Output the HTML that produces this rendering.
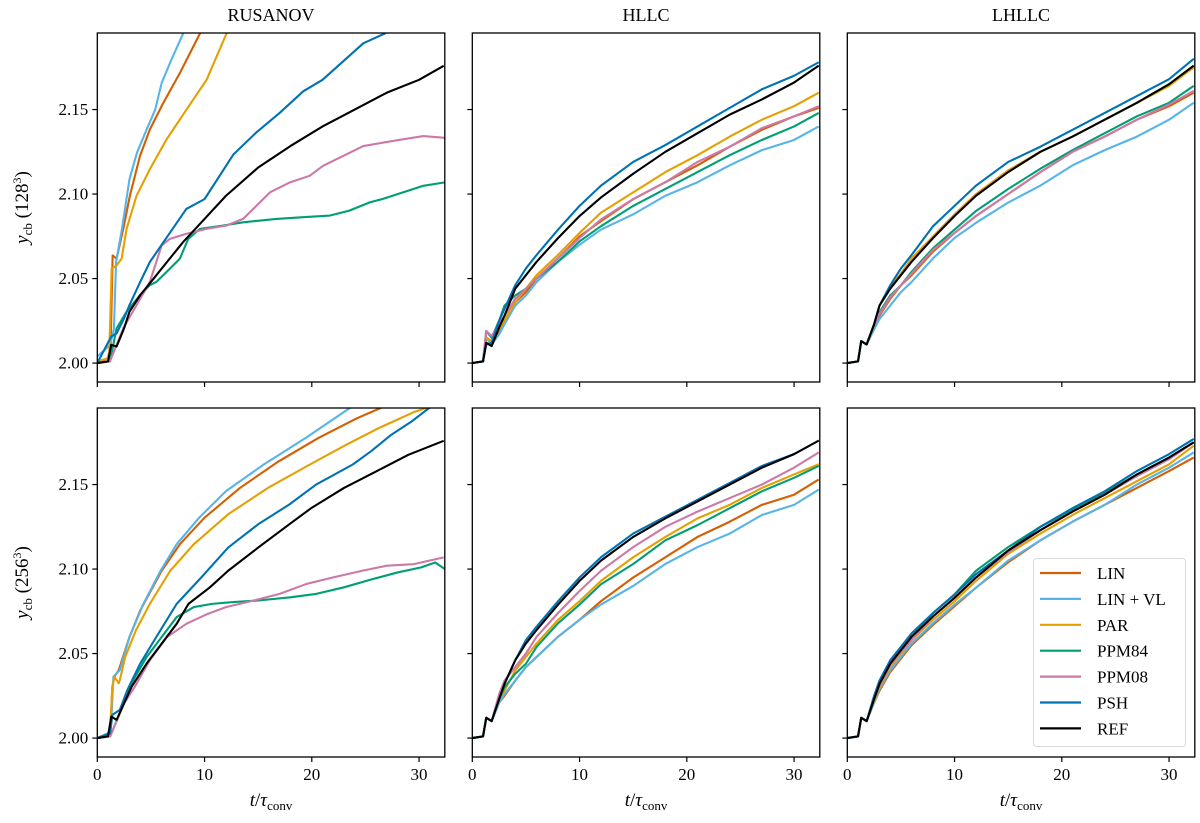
<!DOCTYPE html>
<html><head><meta charset="utf-8"><style>
body{margin:0;background:#fff;}
svg{display:block;font-family:"Liberation Serif",serif;}
</style></head><body>
<svg id="chart" width="1200" height="823" viewBox="0 0 1200 823" xmlns="http://www.w3.org/2000/svg"></svg>
<script>
const methods=["LIN","LIN + VL","PAR","PPM84","PPM08","PSH","REF"];
const colors=["#d55e00","#56b4e9","#e69f00","#009e73","#cc79a7","#0072b2","#000000"];
const colTitles=["RUSANOV","HLLC","LHLLC"];
const rowLabels=["128","256"];
const yTicks=[2.00,2.05,2.10,2.15];
const xTicks=[0,10,20,30];
const tGrid=[0,1,1.3,1.8,2.5,3,4,5,6,8,10,12,15,18,21,24,27,30,32.3];

// RUSANOV 128
const rus1T=[
[0,1,1.25,1.43,1.8,2.42,3.04,3.98,4.9,6.15,7.7,9.57,11],
[0,1.2,1.55,1.75,2.3,3,3.7,4.6,5.4,6,6.9,8,10],
[0,1.1,1.34,1.8,2.27,2.73,3.66,4.9,6.46,8.32,10.19,12.05,14],
[0,1.18,1.8,2.73,3.98,4.9,5.5,6.77,7.7,8.48,9.57,11.74,13.6,16.7,19.2,21.7,23.5,25.4,26.6,28.5,30.4,32.4],
[0,1.18,2.42,3.66,4.9,6.0,6.77,8.32,10.19,12.05,13.6,14.84,16.1,17.95,19.8,21.05,22.9,24.8,26.6,28.5,30.4,32.4],
[0,1.3,1.8,2.5,3,4,4.9,8.3,10,12.7,14.8,17,19.2,21,22.9,24.8,26.8,32.3],
[0,1,1.3,1.8,2.5,3,4,5,6,8,10,12,15,18,21,24,27,30,32.3]];
const rus1V=[
[2.000,2.003,2.0108,2.0637,2.0618,2.0794,2.099,2.1225,2.1382,2.1539,2.1716,2.195,2.21],
[2.0039,2.0108,2.02,2.0598,2.0794,2.1088,2.1245,2.1382,2.150,2.1657,2.1794,2.195,2.23],
[2.001,2.003,2.0559,2.0578,2.0618,2.0794,2.099,2.1147,2.1324,2.150,2.1676,2.195,2.215],
[2.000,2.001,2.0206,2.0304,2.0402,2.0461,2.048,2.0559,2.0618,2.0735,2.0794,2.0814,2.0833,2.0853,2.0863,2.0873,2.0902,2.0951,2.0971,2.101,2.1049,2.1069],
[2.000,2.001,2.0206,2.0343,2.048,2.0696,2.0735,2.0765,2.0794,2.0814,2.0853,2.0931,2.101,2.1069,2.1108,2.1167,2.1225,2.1284,2.1304,2.1324,2.1343,2.1333],
[2.000,2.0157,2.0176,2.0265,2.0343,2.048,2.0598,2.0912,2.097,2.1235,2.1363,2.148,2.1608,2.1676,2.1784,2.1892,2.195,2.22],
[2.000,2.001,2.0108,2.0098,2.0206,2.0304,2.0402,2.048,2.0559,2.0716,2.0853,2.099,2.1157,2.1284,2.140,2.150,2.160,2.1676,2.1759]];
// RUSANOV 256
const rus2T=[
[0,1.2,1.4,1.6,2,3,4,6,7.7,10,13.3,16.9,20.6,24.2,26.3,28],
[0,1,1.3,1.5,2.1,3,4.3,5.9,7.4,9.5,12,15.5,19.4,23.5,26],
[0,1.2,1.4,1.6,2,2.1,2.6,3.6,4.9,6.8,9,12.2,15.9,19.8,23.2,26.2,29.6,30.5,32],
[0,1.2,2.1,3,4.6,6,7.4,9,10.7,12.5,15,18,20.4,23,25.7,28,30.2,31.5,32.4],
[0,1.2,2.5,3.5,4.9,6.5,8.3,10.3,12,14.6,17,19.5,22,24.7,27,29.5,32.3],
[0,1.2,1.4,2.1,2.8,4,5.5,7.4,9.7,12.2,15,17.9,20.4,23.8,25.5,27.4,29.3,30.9,32.3],
[0,1,1.3,1.8,2.5,3.2,4.6,6,7.4,8.5,10.5,12.2,15,17.9,20,23,26,29,32.3]];
const rus2V=[
[2.000,2.0029,2.0304,2.0363,2.0402,2.0598,2.0755,2.099,2.1147,2.1304,2.148,2.1637,2.1775,2.1892,2.195,2.20],
[2.000,2.0029,2.0088,2.0363,2.0402,2.0598,2.0794,2.099,2.1147,2.1304,2.1461,2.1618,2.1775,2.1951,2.205],
[2.000,2.0029,2.0304,2.0363,2.0324,2.0343,2.048,2.0637,2.0794,2.099,2.1147,2.1324,2.148,2.1618,2.1735,2.1833,2.1931,2.195,2.198],
[2.000,2.001,2.0147,2.0304,2.048,2.0598,2.0716,2.0775,2.0794,2.0804,2.0814,2.0833,2.0853,2.0892,2.0941,2.098,2.101,2.1039,2.100],
[2.000,2.001,2.0206,2.0304,2.0461,2.0598,2.0676,2.0735,2.0775,2.0814,2.0853,2.0912,2.0951,2.099,2.102,2.1029,2.1069],
[2.000,2.0029,2.0137,2.0167,2.0284,2.0441,2.0598,2.0794,2.0951,2.1127,2.1265,2.1382,2.150,2.1618,2.1696,2.1794,2.1873,2.1951,2.20],
[2.000,2.001,2.0127,2.0108,2.0206,2.0304,2.0441,2.0559,2.0676,2.0794,2.0892,2.099,2.1127,2.1265,2.1363,2.148,2.1578,2.1676,2.1759]];
// HLLC 128 (on tGrid)
const hllc1V=[
[2.000,2.001,2.015,2.013,2.019,2.025,2.036,2.042,2.050,2.062,2.075,2.084,2.097,2.107,2.117,2.128,2.138,2.146,2.151],
[2.000,2.001,2.015,2.011,2.017,2.023,2.034,2.040,2.048,2.060,2.070,2.079,2.088,2.099,2.107,2.117,2.126,2.132,2.140],
[2.000,2.001,2.015,2.013,2.020,2.025,2.036,2.044,2.052,2.064,2.077,2.089,2.101,2.113,2.123,2.134,2.144,2.152,2.160],
[2.000,2.001,2.019,2.015,2.025,2.034,2.040,2.044,2.050,2.060,2.072,2.081,2.093,2.103,2.113,2.123,2.132,2.140,2.148],
[2.000,2.001,2.019,2.016,2.023,2.028,2.038,2.044,2.050,2.062,2.074,2.085,2.097,2.107,2.119,2.128,2.139,2.146,2.152],
[2.000,2.001,2.011,2.012,2.025,2.032,2.046,2.056,2.064,2.079,2.093,2.105,2.119,2.129,2.140,2.151,2.162,2.170,2.178],
[2.000,2.001,2.012,2.010,2.021,2.028,2.044,2.052,2.060,2.074,2.087,2.098,2.112,2.125,2.136,2.147,2.156,2.166,2.176]];
// LHLLC 128
const lhllc1V=[
[2.000,2.001,2.013,2.011,2.022,2.028,2.038,2.046,2.052,2.066,2.077,2.087,2.100,2.113,2.125,2.134,2.144,2.152,2.160],
[2.000,2.001,2.013,2.011,2.020,2.026,2.034,2.042,2.048,2.062,2.074,2.083,2.095,2.105,2.117,2.126,2.134,2.144,2.154],
[2.000,2.001,2.013,2.011,2.023,2.034,2.045,2.053,2.062,2.075,2.088,2.100,2.114,2.125,2.134,2.144,2.154,2.164,2.175],
[2.000,2.001,2.013,2.011,2.022,2.030,2.040,2.046,2.054,2.068,2.079,2.090,2.103,2.115,2.126,2.136,2.146,2.154,2.164],
[2.000,2.001,2.013,2.011,2.022,2.029,2.039,2.046,2.053,2.067,2.077,2.087,2.100,2.113,2.125,2.134,2.144,2.153,2.161],
[2.000,2.001,2.013,2.011,2.023,2.034,2.046,2.056,2.064,2.081,2.093,2.105,2.119,2.128,2.138,2.148,2.158,2.168,2.180],
[2.000,2.001,2.013,2.011,2.023,2.034,2.044,2.052,2.060,2.074,2.087,2.099,2.113,2.125,2.134,2.144,2.154,2.165,2.176]];
// HLLC 256
const hllc2V=[
[2.000,2.001,2.012,2.010,2.021,2.025,2.034,2.042,2.048,2.060,2.070,2.081,2.095,2.107,2.119,2.128,2.138,2.144,2.153],
[2.000,2.001,2.012,2.010,2.021,2.026,2.034,2.042,2.048,2.060,2.070,2.079,2.090,2.103,2.113,2.121,2.132,2.138,2.147],
[2.000,2.001,2.012,2.010,2.023,2.028,2.040,2.048,2.056,2.070,2.081,2.093,2.107,2.119,2.130,2.138,2.148,2.156,2.162],
[2.000,2.001,2.012,2.010,2.023,2.030,2.038,2.044,2.054,2.068,2.079,2.091,2.103,2.117,2.126,2.136,2.146,2.154,2.161],
[2.000,2.001,2.012,2.010,2.026,2.034,2.042,2.050,2.060,2.074,2.087,2.099,2.113,2.125,2.134,2.142,2.150,2.160,2.169],
[2.000,2.001,2.012,2.010,2.023,2.032,2.046,2.058,2.066,2.081,2.095,2.107,2.121,2.131,2.141,2.151,2.161,2.168,2.176],
[2.000,2.001,2.012,2.010,2.023,2.032,2.046,2.056,2.064,2.079,2.093,2.105,2.119,2.130,2.140,2.150,2.160,2.168,2.176]];
// LHLLC 256
const lhllc2V=[
[2.000,2.001,2.012,2.010,2.021,2.028,2.039,2.047,2.055,2.067,2.078,2.089,2.104,2.117,2.128,2.138,2.148,2.158,2.166],
[2.000,2.001,2.012,2.010,2.021,2.029,2.040,2.048,2.056,2.068,2.079,2.089,2.105,2.117,2.128,2.138,2.150,2.160,2.169],
[2.000,2.001,2.012,2.010,2.022,2.030,2.042,2.050,2.058,2.070,2.081,2.093,2.109,2.121,2.132,2.142,2.152,2.162,2.173],
[2.000,2.001,2.012,2.010,2.023,2.031,2.044,2.052,2.060,2.074,2.085,2.099,2.113,2.125,2.135,2.145,2.156,2.166,2.175],
[2.000,2.001,2.012,2.010,2.023,2.031,2.043,2.051,2.058,2.072,2.083,2.095,2.110,2.123,2.134,2.144,2.155,2.165,2.175],
[2.000,2.001,2.012,2.010,2.025,2.034,2.046,2.054,2.062,2.074,2.085,2.097,2.111,2.125,2.136,2.146,2.158,2.168,2.177],
[2.000,2.001,2.012,2.010,2.023,2.032,2.044,2.052,2.060,2.072,2.083,2.095,2.111,2.123,2.134,2.144,2.156,2.166,2.175]];

const NS="http://www.w3.org/2000/svg";
const svg=document.getElementById('chart');
function mk(tag,attrs,parent){const e=document.createElementNS(NS,tag);for(const k in attrs)e.setAttribute(k,attrs[k]);(parent||svg).appendChild(e);return e;}

const colLeft=[97.3,472.3,847.3];
const rowTop=[33,408];
const xMin=0,xMax=32.4,yMin=1.9888,yMax=2.1953;
const pw=347.5, ph=349;
function sx(c,t){return colLeft[c]+(t-xMin)/(xMax-xMin)*pw;}
function sy(r,v){return rowTop[r]+(yMax-v)/(yMax-yMin)*ph;}

const defs=mk('defs',{});
const panels=[[{T:rus1T,V:rus1V},{T:null,V:hllc1V},{T:null,V:lhllc1V}],
              [{T:rus2T,V:rus2V},{T:null,V:hllc2V},{T:null,V:lhllc2V}]];

for(let r=0;r<2;r++){for(let c=0;c<3;c++){
  const L=colLeft[c],T=rowTop[r];
  const cp=mk('clipPath',{id:'cp'+r+c},defs);
  mk('rect',{x:L,y:T,width:pw,height:ph},cp);
  const g=mk('g',{});
  
  
  const lg=mk('g',{'clip-path':'url(#cp'+r+c+')'},g);
  const P=panels[r][c];
  for(let s=0;s<methods.length;s++){
    const ts=P.T?P.T[s]:tGrid, vs=P.V[s];
    let d='';
    for(let i=0;i<vs.length;i++){d+=(i?'L':'M')+sx(c,ts[i]).toFixed(2)+','+sy(r,vs[i]).toFixed(2);}
    const p=mk('path',{d:d,fill:'none',stroke:colors[s],'stroke-width':2.1,'stroke-linejoin':'round'},lg);
    
    
  }
  const fr=mk('rect',{x:L,y:T,width:pw,height:ph,fill:'none',stroke:'#000','stroke-width':1.3},g);
  
  
  for(const v of yTicks){
    const y=sy(r,v);
    mk('line',{x1:L-5,x2:L,y1:y,y2:y,stroke:'#000','stroke-width':1.2},g);
    if(c===0){
      const tx=mk('text',{x:L-9,y:y+5.5,'text-anchor':'end','font-size':17},g);
      tx.textContent=v.toFixed(2);
      
      
    }
  }
  for(const t of xTicks){
    const x=sx(c,t);
    mk('line',{x1:x,x2:x,y1:T+ph,y2:T+ph+5,stroke:'#000','stroke-width':1.2},g);
    if(r===1){
      const tx=mk('text',{x:x,y:T+ph+23,'text-anchor':'middle','font-size':17},g);
      tx.textContent=String(t);
      
      
    }
  }
  if(r===0){
    const tt=mk('text',{x:L+pw/2,y:21,'text-anchor':'middle','font-size':18},g);
    tt.textContent=colTitles[c];
    
    
  }
  if(r===1){
    const xl=mk('text',{x:L+pw/2,y:806,'text-anchor':'middle','font-size':19},g);
    xl.innerHTML='<tspan font-style="italic">t</tspan>/<tspan font-style="italic">τ</tspan><tspan font-size="13" dy="4">conv</tspan>';
    
    
  }
  if(c===0){
    const cy=T+ph/2;
    const yl=mk('text',{x:0,y:0,'text-anchor':'middle','font-size':19,transform:'translate(28,'+cy+') rotate(-90)'},g);
    yl.innerHTML='<tspan font-style="italic">y</tspan><tspan font-size="13" dy="4">cb</tspan><tspan dy="-4"> (</tspan>'+rowLabels[r]+'<tspan font-size="12" dy="-7">3</tspan><tspan dy="7">)</tspan>';
    
    
  }
}}

// legend
const lgG=mk('g',{});


mk('rect',{x:1033.5,y:558.5,width:152,height:188,rx:3,fill:'#fff','fill-opacity':0.85,stroke:'#d9d9d9','stroke-width':1},lgG);
for(let s=0;s<methods.length;s++){
  const y=573+s*25.9;
  const e=mk('g',{},lgG);
  
  
  mk('line',{x1:1040,x2:1081,y1:y,y2:y,stroke:colors[s],'stroke-width':2.2},e);
  const tx=mk('text',{x:1097,y:y+6,'font-size':17},e);
  tx.textContent=methods[s];
}
</script>
</body></html>
